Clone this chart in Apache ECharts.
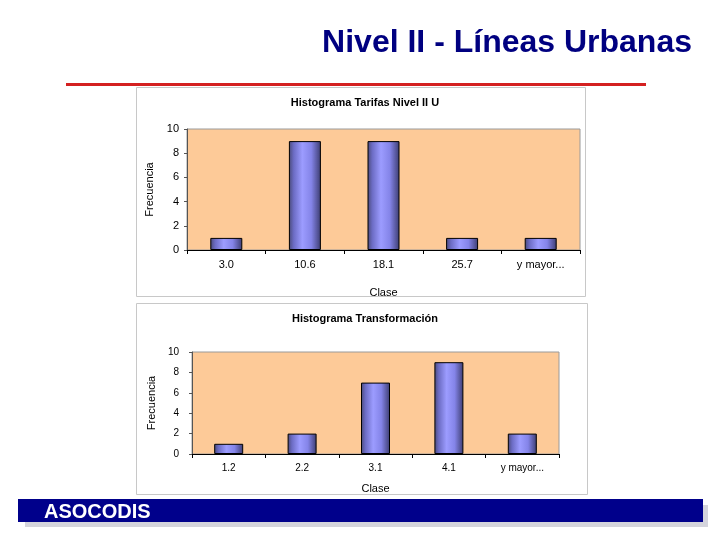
<!DOCTYPE html>
<html><head><meta charset="utf-8">
<script src="https://cdn.jsdelivr.net/npm/echarts@6/dist/echarts.min.js"></script>
<style>html,body{margin:0;padding:0;background:#fff}#c{width:720px;height:540px}</style>
</head><body><div id="c"></div>
<script>
const pageTitle = 'Nivel II - Líneas Urbanas';
const footerText = 'ASOCODIS';
const chart1Title = 'Histograma Tarifas Nivel II U';
const chart1Categories = ['3.0', '10.6', '18.1', '25.7', 'y mayor...'];
const chart1Values = [1, 9, 9, 1, 1];
const chart2Title = 'Histograma Transformación';
const chart2Categories = ['1.2', '2.2', '3.1', '4.1', 'y mayor...'];
const chart2Values = [1, 2, 7, 9, 2];
const yAxisName = 'Frecuencia';
const xAxisName = 'Clase';

const FONT = '"Liberation Sans", Arial, sans-serif';
const barGrad = new echarts.graphic.LinearGradient(0, 0, 1, 0, [
  {offset: 0, color: '#4a4a78'},
  {offset: 0.15, color: '#6c6cc4'},
  {offset: 0.42, color: '#9c9cff'},
  {offset: 0.7, color: '#8484e8'},
  {offset: 1, color: '#3c3c70'}
]);
const PEACH = '#fdca98';

function xAx(gi, cats, fs, gap) {
  return {
    gridIndex: gi, type: 'category', data: cats, boundaryGap: true,
    name: xAxisName, nameLocation: 'middle', nameGap: gap,
    nameTextStyle: {fontFamily: FONT, fontSize: 11, color: '#000'},
    axisLine: {lineStyle: {color: '#000', width: 1}},
    axisTick: {show: true, length: 4, lineStyle: {color: '#000'}},
    axisLabel: {fontFamily: FONT, fontSize: fs, color: '#000', margin: 9}
  };
}
function yAx(gi, fs, gap, margin) {
  return {
    gridIndex: gi, type: 'value', min: 0, max: 10, interval: 2,
    name: yAxisName, nameLocation: 'middle', nameGap: gap, nameRotate: 90,
    nameTextStyle: {fontFamily: FONT, fontSize: 11, color: '#000'},
    axisLine: {show: true, lineStyle: {color: '#555', width: 1}},
    axisTick: {show: true, length: 3, lineStyle: {color: '#555'}},
    splitLine: {show: false},
    axisLabel: {fontFamily: FONT, fontSize: fs, color: '#000', margin: margin}
  };
}

const chart = echarts.init(document.getElementById('c'), null, {renderer: 'canvas'});
chart.setOption({
  animation: false,
  backgroundColor: '#fff',
  title: [
    {text: chart1Title, left: 360, top: 92, textAlign: 'center',
     textStyle: {fontFamily: FONT, fontSize: 11, fontWeight: 'bold', color: '#000'}},
    {text: chart2Title, left: 360, top: 308, textAlign: 'center',
     textStyle: {fontFamily: FONT, fontSize: 11, fontWeight: 'bold', color: '#000'}}
  ],
  grid: [
    {left: 187, top: 129, width: 393, height: 121, show: true, backgroundColor: PEACH, borderColor: '#9a9a9a', borderWidth: 1},
    {left: 192, top: 352, width: 367, height: 102, show: true, backgroundColor: PEACH, borderColor: '#9a9a9a', borderWidth: 1}
  ],
  xAxis: [xAx(0, chart1Categories, 11, 37), xAx(1, chart2Categories, 10, 29)],
  yAxis: [yAx(0, 11, 29, 8), yAx(1, 10, 30, 13)],
  series: [
    {type: 'bar', xAxisIndex: 0, yAxisIndex: 0, data: chart1Values, barWidth: 32,
     itemStyle: {color: barGrad, borderColor: '#000', borderWidth: 1}},
    {type: 'bar', xAxisIndex: 1, yAxisIndex: 1, data: chart2Values, barWidth: 29,
     itemStyle: {color: barGrad, borderColor: '#000', borderWidth: 1}}
  ],
  graphic: [
    {type: 'rect', z: -10, shape: {x: 136.5, y: 87.5, width: 449, height: 209}, style: {fill: '#fff', stroke: '#c8c8c8', lineWidth: 1}},
    {type: 'rect', z: -10, shape: {x: 136.5, y: 303.5, width: 451, height: 191}, style: {fill: '#fff', stroke: '#c8c8c8', lineWidth: 1}},
    {type: 'text', x: 692, y: 43, style: {text: pageTitle, fill: '#000080', font: 'bold 32px ' + FONT, textAlign: 'right', textVerticalAlign: 'middle', textShadowColor: '#a0a0a0', textShadowOffsetX: 2, textShadowOffsetY: 2, textShadowBlur: 0}},
    {type: 'rect', shape: {x: 66, y: 83, width: 580, height: 3}, style: {fill: '#d42020'}},
    {type: 'rect', shape: {x: 25, y: 505, width: 683, height: 22}, style: {fill: '#d4d4dc'}},
    {type: 'rect', shape: {x: 18, y: 499, width: 685, height: 23}, style: {fill: '#00008b'}},
    {type: 'text', x: 44, y: 512, style: {text: footerText, fill: '#fff', font: 'bold 20px ' + FONT, textVerticalAlign: 'middle'}}
  ]
});
</script></body></html>
